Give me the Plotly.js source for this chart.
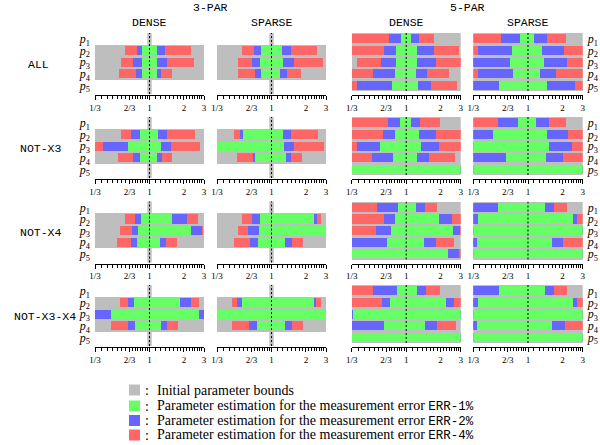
<!DOCTYPE html>
<html><head><meta charset="utf-8">
<script src="https://cdn.plot.ly/plotly-3.0.1.min.js"></script>
<style>body{margin:0;background:#fff}#chart{width:600px;height:445px}</style>
</head><body><div id="chart"></div>
<script>
const PARAM_LABELS = ['<i>p</i><sub>1</sub>','<i>p</i><sub>2</sub>','<i>p</i><sub>3</sub>','<i>p</i><sub>4</sub>','<i>p</i><sub>5</sub>'];
const PARAM_POS = [1,2,3,4,5];
const SCENARIOS = ['ALL','NOT-X3','NOT-X4','NOT-X3-X4'];
const MODELS = ['3-PAR','5-PAR'];
const DESIGNS = ['DENSE','SPARSE'];
const LEGEND_TEXT = ['Initial parameter bounds',
  'Parameter estimation for the measurement error <span style="font-family:Liberation Mono;font-size:12.5px">ERR-1%</span>',
  'Parameter estimation for the measurement error <span style="font-family:Liberation Mono;font-size:12.5px">ERR-2%</span>',
  'Parameter estimation for the measurement error <span style="font-family:Liberation Mono;font-size:12.5px">ERR-4%</span>'];
const TICK_VALS = [1/3, 2/3, 1, 2, 3];
const TICK_TEXT = ['1/3','2/3','1','2','3'];
const MINOR_TICKS = [0.381,0.429,0.476,0.524,0.571,0.619,0.708,0.75,0.792,0.833,0.875,0.917,0.958,
  1.125,1.25,1.375,1.5,1.625,1.75,1.875,2.125,2.25,2.375,2.5,2.625,2.75,2.875];
const BOUNDS = [1/3, 3];
const FIXED_VALUE = 1;
const PARS_3 = [2,3,4];
const PARS_5 = [1,2,3,4,5];

// each row: [ERR-4% lo, ERR-2% lo, ERR-1% lo, ERR-1% hi, ERR-2% hi, ERR-4% hi]
const ALL_3PAR_DENSE = [[0.614,0.773,0.861,1.161,1.357,2.29],[0.562,0.722,0.856,1.169,1.42,2.45],[0.543,0.763,0.856,1.161,1.268,1.565]];
const ALL_3PAR_SPARSE = [[0.547,0.708,0.805,1.226,1.472,2.50],[0.504,0.675,0.789,1.26,1.575,2.80],[0.504,0.717,0.816,1.193,1.357,1.817]];
const ALL_5PAR_DENSE = [[0.3334,0.713,0.904,1.106,1.285,1.74],[0.3334,0.644,0.816,1.242,1.753,2.91],[0.368,0.606,0.816,1.242,1.838,3.0],[0.3334,0.515,0.795,1.208,1.521,2.376],[0.3334,0.368,0.748,1.258,1.661,2.79]];
const ALL_5PAR_SPARSE = [[0.3334,0.581,0.857,1.136,1.455,2.16],[0.3334,0.368,0.730,1.325,2.046,3.0],[0.3334,0.3334,0.701,1.37,2.17,3.0],[0.3334,0.368,0.740,1.273,1.767,3.0],[0.3334,0.3334,0.562,1.466,2.59,3.0]];
const NOTX3_3PAR_DENSE = [[0.562,0.693,0.827,1.192,1.413,2.50],[0.3334,0.392,0.644,1.251,1.534,2.77],[0.532,0.722,0.833,1.161,1.295,1.575]];
const NOTX3_3PAR_SPARSE = [[0.465,0.525,0.566,1.251,1.482,2.55],[0.3334,0.3334,0.3334,1.295,1.575,2.86],[0.494,0.689,0.712,1.329,1.472,1.84]];
const NOTX3_5PAR_DENSE = [[0.3334,0.699,0.891,1.106,1.328,1.965],[0.3334,0.632,0.79,1.293,1.838,3.0],[0.3334,0.368,0.586,1.356,1.94,3.0],[0.3334,0.498,0.773,1.25,1.583,2.70],[0.3334,0.3334,0.3334,3.0,3.0,3.0]];
const NOTX3_5PAR_SPARSE = [[0.3334,0.547,0.818,1.174,1.515,2.16],[0.3334,0.3334,0.498,1.466,2.25,3.0],[0.3334,0.3334,0.3334,1.515,2.41,3.0],[0.3334,0.3334,0.647,1.436,2.006,3.0],[0.3334,0.3334,0.3334,3.0,3.0,3.0]];
const NOTX4_3PAR_DENSE = [[0.614,0.742,0.844,1.586,2.11,2.65],[0.554,0.703,0.799,2.32,2.88,2.96],[0.521,0.689,0.778,1.234,1.393,1.756]];
const NOTX4_3PAR_SPARSE = [[0.547,0.67,0.799,2.35,2.48,2.71],[0.504,0.618,0.784,3.0,3.0,3.0],[0.465,0.652,0.757,1.311,1.502,1.878]];
const NOTX4_5PAR_DENSE = [[0.3334,0.556,0.844,1.208,1.45,1.862],[0.3334,0.636,0.795,1.94,2.53,3.0],[0.3334,0.544,0.738,2.56,2.95,3.0],[0.3334,0.3334,0.676,1.43,1.813,2.61],[0.3334,0.3334,0.3334,2.34,2.89,3.0]];
const NOTX4_5PAR_SPARSE = [[0.3334,0.3334,0.547,1.398,1.676,2.207],[0.3334,0.3334,0.368,2.49,2.69,3.0],[0.3334,0.3334,0.3334,3.0,3.0,3.0],[0.3334,0.3334,0.359,1.62,2.02,3.0],[0.3334,0.3334,0.3334,3.0,3.0,3.0]];
const NOTX3X4_3PAR_DENSE = [[0.554,0.644,0.737,1.84,2.32,2.69],[0.3334,0.3334,0.462,2.69,3.0,3.0],[0.462,0.644,0.747,1.259,1.42,1.768]];
const NOTX3X4_3PAR_SPARSE = [[0.455,0.494,0.547,2.35,2.47,2.71],[0.3334,0.3334,0.3334,3.0,3.0,3.0],[0.455,0.635,0.742,1.32,1.502,1.89]];
const NOTX3X4_5PAR_DENSE = [[0.3334,0.515,0.828,1.25,1.49,1.98],[0.3334,0.619,0.728,2.235,2.645,3.0],[0.3334,0.3334,0.345,3.0,3.0,3.0],[0.3334,0.3334,0.636,1.46,1.875,2.72],[0.3334,0.3334,0.3334,3.0,3.0,3.0]];
const NOTX3X4_5PAR_SPARSE = [[0.3334,0.3334,0.562,1.398,1.676,2.207],[0.3334,0.3334,0.366,2.47,2.69,3.0],[0.3334,0.3334,0.3334,3.0,3.0,3.0],[0.3334,0.3334,0.359,1.62,2.12,3.0],[0.3334,0.3334,0.3334,3.0,3.0,3.0]];

const PANELS = [
  [ALL_3PAR_DENSE, ALL_3PAR_SPARSE, ALL_5PAR_DENSE, ALL_5PAR_SPARSE],
  [NOTX3_3PAR_DENSE, NOTX3_3PAR_SPARSE, NOTX3_5PAR_DENSE, NOTX3_5PAR_SPARSE],
  [NOTX4_3PAR_DENSE, NOTX4_3PAR_SPARSE, NOTX4_5PAR_DENSE, NOTX4_5PAR_SPARSE],
  [NOTX3X4_3PAR_DENSE, NOTX3X4_3PAR_SPARSE, NOTX3X4_5PAR_DENSE, NOTX3X4_5PAR_SPARSE]
];

// ---- styling / layout ----
const W = 600, H = 445;
const GRAY = '#bebebe', GREEN = '#66ff66', BLUE = '#6666ff', RED = '#ff6666';
const SERIF = 'Liberation Serif', MONO = 'Liberation Mono';
const COLX = [[95,204],[217,326],[351.7,460.7],[473.3,582.7]];
const ROWTOP = [33,117,201.5,285];
const PH = 62;
const YRANGE = [5.82, 0.5];
const STRIP_HALF = 1.045;
const px = v => v / W, py = v => 1 - v / H;
// fraction of the (log) x domain at which a value sits
const domFrac = v => (Math.log10(v) - Math.log10(BOUNDS[0])) / (Math.log10(BOUNDS[1]) - Math.log10(BOUNDS[0]));

const traces = [];
const layout = {
  width: W, height: H, autosize: false, showlegend: false,
  margin: {l:0, r:0, t:0, b:0}, paper_bgcolor: '#fff', plot_bgcolor: 'rgba(0,0,0,0)',
  barmode: 'overlay', bargap: 0,
  annotations: [], shapes: []
};

for (let r = 0; r < 4; r++) {
  for (let c = 0; c < 4; c++) {
    const idx = r * 4 + c + 1;
    const sfx = idx === 1 ? '' : String(idx);
    const xa = 'x' + sfx, ya = 'y' + sfx;
    const three = c < 2;
    const pars = three ? PARS_3 : PARS_5;
    const rows = PANELS[r][c];
    const common = {type:'bar', orientation:'h', xaxis:xa, yaxis:ya, hoverinfo:'skip', showlegend:false};
    // initial parameter bounds
    traces.push(Object.assign({}, common, {
      y: pars, base: pars.map(() => BOUNDS[0]), x: pars.map(() => BOUNDS[1] - BOUNDS[0]),
      width: 1, marker: {color: GRAY, line: {width: 0}}
    }));
    if (three) {
      // fixed parameters: bounds collapse onto the nominal value
      layout.shapes.push({type:'rect', xref: xa + ' domain', yref: ya, layer: 'below',
        x0: domFrac(FIXED_VALUE / STRIP_HALF), x1: domFrac(FIXED_VALUE * STRIP_HALF), y0: 0.42, y1: 5.74,
        fillcolor: GRAY, line: {width: 0}});
    }
    [[0,5,RED],[1,4,BLUE],[2,3,GREEN]].forEach(([lo, hi, col]) => {
      traces.push(Object.assign({}, common, {
        y: pars, base: rows.map(q => q[lo]), x: rows.map(q => q[hi] - q[lo]),
        width: 0.78, marker: {color: col, line: {width: 0}}
      }));
    });
    traces.push({type:'scatter', mode:'lines', xaxis:xa, yaxis:ya, hoverinfo:'skip', showlegend:false,
      x: [FIXED_VALUE, FIXED_VALUE], y: three ? [0.42, 5.74] : [0.5, 5.5],
      line: {color:'#000', width:1, dash:'2px,2px'}});

    const top = ROWTOP[r];
    layout['xaxis' + sfx] = {
      domain: [px(COLX[c][0]), px(COLX[c][1])], anchor: ya, type: 'log',
      range: [Math.log10(BOUNDS[0]), Math.log10(BOUNDS[1])],
      tickmode: 'array', tickvals: TICK_VALS, ticktext: TICK_TEXT,
      ticks: 'outside', ticklen: 4, tickwidth: 1, tickcolor: '#000',
      showline: true, linecolor: '#000', linewidth: 1, showgrid: false, zeroline: false,
      tickfont: {family: SERIF, size: 9, color: '#000'},
      minor: {tickmode: 'array', tickvals: MINOR_TICKS, ticks: 'outside', ticklen: 3, tickwidth: 1, tickcolor: '#000', showgrid: false},
      fixedrange: true
    };
    layout['yaxis' + sfx] = {
      domain: [py(top + PH), py(top)], anchor: xa, range: YRANGE,
      showgrid: false, zeroline: false, showline: false, ticks: '',
      tickmode: 'array', tickvals: PARAM_POS, ticktext: PARAM_LABELS,
      showticklabels: c === 0 || c === 3, side: c === 3 ? 'right' : 'left',
      ticklabelstandoff: 4,
      tickfont: {family: SERIF, size: 12, color: '#000'}, fixedrange: true
    };
  }
}

const ann = (x, y, text, font, xanchor) => layout.annotations.push({
  xref:'paper', yref:'paper', x: px(x), y: py(y), text, showarrow:false,
  xanchor: xanchor || 'center', yanchor:'middle', font: Object.assign({color:'#000'}, font)
});

// model and design headers
ann((COLX[0][0] + COLX[1][1]) / 2, 8, MODELS[0], {family: MONO, size: 11.5});
ann((COLX[2][0] + COLX[3][1]) / 2, 8, MODELS[1], {family: MONO, size: 11.5});
for (let c = 0; c < 4; c++) ann((COLX[c][0] + COLX[c][1]) / 2, 22.5, DESIGNS[c % 2], {family: MONO, size: 11.5});
// scenario labels
const ROWLAB_X = [38, 41, 41, 45];
for (let r = 0; r < 4; r++) ann(ROWLAB_X[r], ROWTOP[r] + 31, SCENARIOS[r], {family: MONO, size: 11.5});

// legend
const LEG_Y = [390, 406, 420.5, 435];
const LEG_COL = [GRAY, GREEN, BLUE, RED];
for (let i = 0; i < 4; i++) {
  layout.shapes.push({type:'rect', xref:'paper', yref:'paper', x0: px(129), x1: px(140),
    y0: py(LEG_Y[i] + 5.5), y1: py(LEG_Y[i] - 5.5), fillcolor: LEG_COL[i], line: {width: 0}});
  ann(147, LEG_Y[i], ':', {family: SERIF, size: 14});
  ann(155, LEG_Y[i], LEGEND_TEXT[i], {family: SERIF, size: 14}, 'left');
}

Plotly.newPlot('chart', traces, layout, {displayModeBar: false, staticPlot: true});
</script>
</body></html>
